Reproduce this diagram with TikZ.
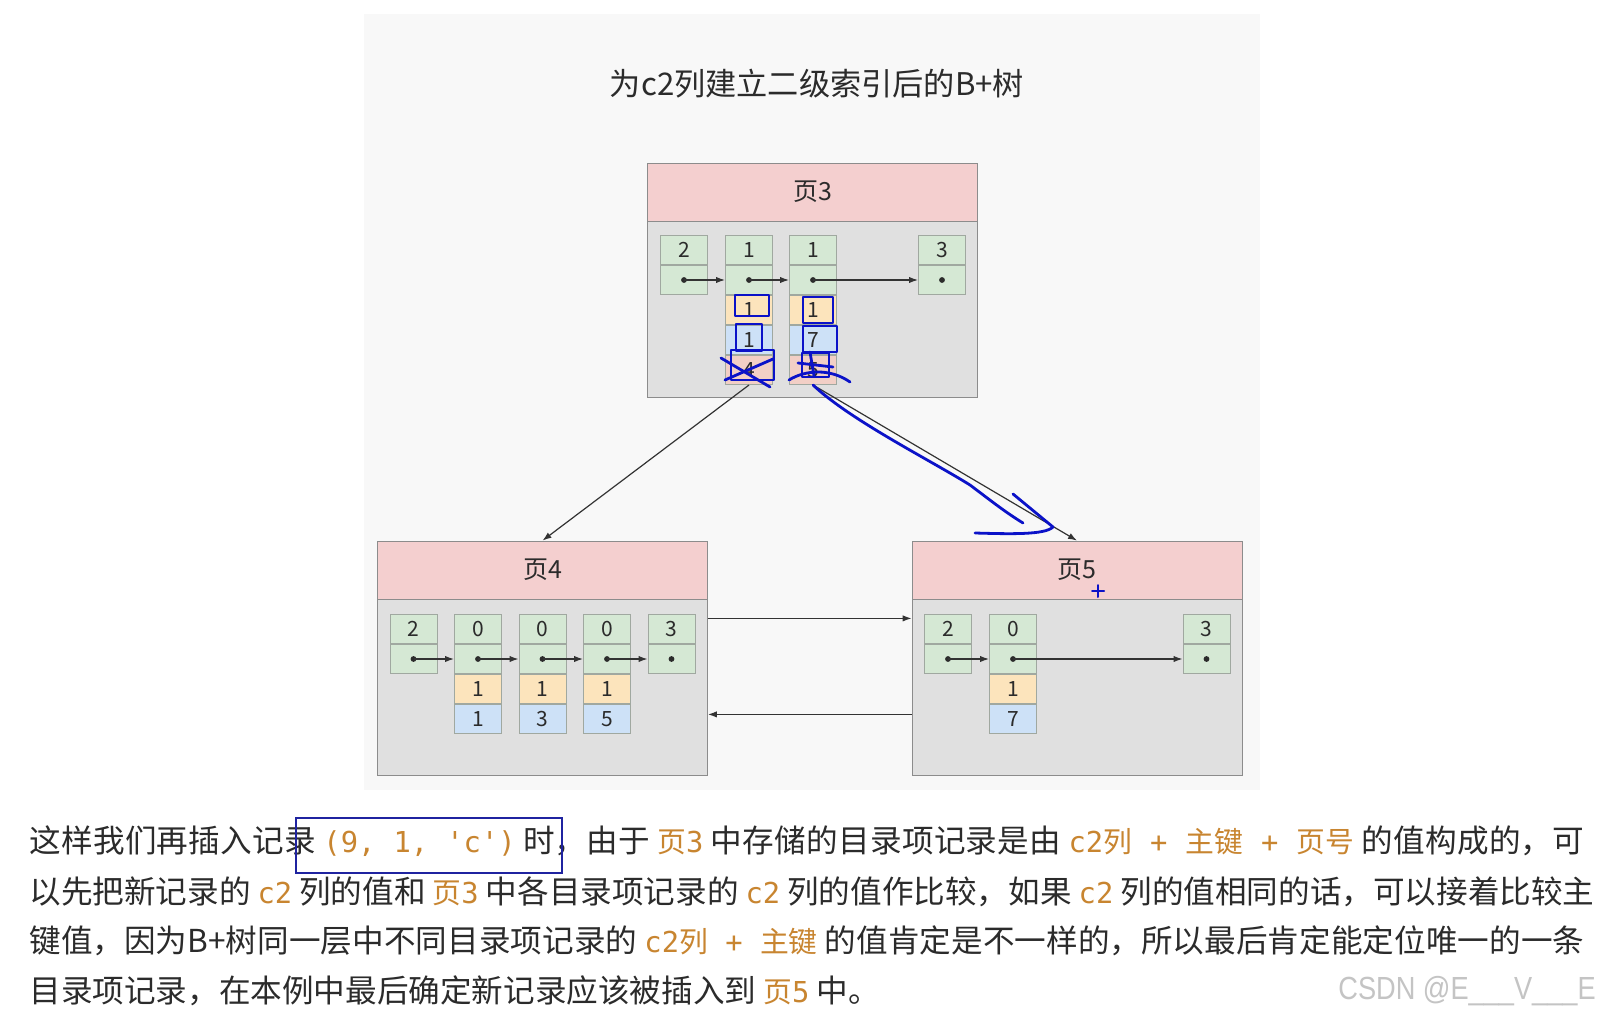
\documentclass[tikz,border=0pt]{standalone}
\usepackage{fontspec}
\setmainfont{Noto Sans CJK SC}
\newfontfamily\codefont{DejaVu Sans Mono}
\newfontfamily\markfont{Liberation Sans}
\usepackage{xcolor}
\usepackage{tikz}
\usetikzlibrary{positioning}
\usetikzlibrary{arrows.meta}

\definecolor{panel}{HTML}{F8F8F8}
\definecolor{headpink}{HTML}{F4CFCF}
\definecolor{bodygray}{HTML}{E0E0E0}
\definecolor{pageline}{HTML}{8C8C8C}
\definecolor{cellline}{HTML}{A0A8A0}
\definecolor{keygreen}{HTML}{D5E8D4}
\definecolor{cellyellow}{HTML}{FCE4BC}
\definecolor{cellblue}{HTML}{CDE1F7}
\definecolor{cellpink}{HTML}{F2CFC6}
\definecolor{ink}{HTML}{2B2B2B}
\definecolor{arrowgray}{HTML}{333333}
\definecolor{codeink}{HTML}{C88530}
\definecolor{penblue}{HTML}{0B12C8}
\definecolor{boxblue}{HTML}{1F23A0}
\definecolor{markgray}{HTML}{C4C4C4}

\XeTeXlinebreaklocale "zh"
\XeTeXlinebreakskip=0pt plus 2pt

\newcommand\zh[1]{{\normalfont #1}}
\newcommand\code[1]{{\color{codeink}\fontsize{14.4}{18}\codefont #1}}

\tikzset{
  head/.style={draw=pageline, fill=headpink, minimum width=165pt, minimum height=29pt, inner sep=0pt, text=ink, font=\fontsize{12.5}{14}\selectfont},
  body/.style={draw=pageline, fill=bodygray, minimum width=165pt, minimum height=88pt, inner sep=0pt},
  cell/.style={draw=cellline, line width=0.5pt, minimum width=23.5pt, minimum height=14.5pt, inner sep=0pt, text=ink, font=\fontsize{10.5}{12}\selectfont},
  key/.style={cell, fill=keygreen},
  yel/.style={cell, fill=cellyellow},
  blu/.style={cell, fill=cellblue},
  pnk/.style={cell, fill=cellpink},
  link/.style={-{Latex[length=4.5pt,width=3.2pt]}, draw=arrowgray, line width=0.6pt},
  pen/.style={draw=penblue, line width=1.4pt, line cap=round, line join=round},
  txt/.style={anchor=west, inner sep=0pt, align=justify, text=ink, font=\fontsize{15.8}{20}\selectfont}
}

\begin{document}
\begin{tikzpicture}[x=0.5pt, y=-0.5pt]
	\fill[white] (0,0) rectangle (1599,1016);
	\useasboundingbox (0,0) rectangle (1599,1016);
	\fill[panel] (364,14) rectangle (1260,790);

	\node[text=ink, font=\fontsize{15.6}{18}\selectfont] (title) at (817,84) {为c2列建立二级索引后的B+树};

	% pages
	\node[head] (p3) at (812.5,192) {页3};
	\node[body, below=0 of p3] (p3b) {};
	\node[head] (p4) at (542.5,570) {页4};
	\node[body, below=0 of p4] (p4b) {};
	\node[head] (p5) at (1077,570) {页5};
	\node[body, below=0 of p5] (p5b) {};

	% records
	\foreach \nm/\v/\x/\y in {p3c0/2/684/250, p3c1/1/749/250, p3c2/1/813/250, p3c3/3/942/250,
	  p4c0/2/413.5/629, p4c1/0/478/629, p4c2/0/542.5/629, p4c3/0/607/629, p4c4/3/671.5/629,
	  p5c0/2/948/629, p5c1/0/1013/629, p5c4/3/1206.5/629}{
		\node[key] (\nm) at (\x,\y) {\v};
		\node[key, below=0 of \nm] (\nm n) {};
		\fill[ink] (\nm n) circle[radius=1.45pt];
	}
	\foreach \nm/\u/\w in {p3c1/1/1, p3c2/1/7, p4c1/1/1, p4c2/1/3, p4c3/1/5, p5c1/1/7}{
		\node[yel, below=0 of \nm n] (\nm y) {\u};
		\node[blu, below=0 of \nm y] (\nm b) {\w};
	}
	\node[pnk, below=0 of p3c1b] (p3c1p) {4};
	\node[pnk, below=0 of p3c2b] (p3c2p) {5};

	\foreach \a/\b in {p3c0/p3c1, p3c1/p3c2, p3c2/p3c3, p4c0/p4c1, p4c1/p4c2, p4c2/p4c3, p4c3/p4c4, p5c0/p5c1, p5c1/p5c4}
		\draw[link] (\a n.center) -- (\b n.west);

	\draw[link] (p3c1p.south) -- (p4.north);
	\draw[link] (p3c2p.south) -- (p5.north);
	\draw[link] ([yshift=-9.5pt]p4b.north east) -- ([yshift=-9.5pt]p5b.north west);
	\draw[link] ([yshift=-57.5pt]p5b.north west) -- ([yshift=-57.5pt]p4b.north east);

	% text
	\node[txt, text width=777.5pt] (line1) at (29,841) {\parfillskip=0pt 这样我们再插入记录 \code{(9, 1, 'c')} 时，由于 \code{\zh{页}3} 中存储的目录项记录是由 \code{c2\zh{列} + \zh{主键} + \zh{页号}} 的值构成的，可\par};
	\node[txt, text width=782.5pt] (line2) at (29,892) {\parfillskip=0pt 以先把新记录的 \code{c2} 列的值和 \code{\zh{页}3} 中各目录项记录的 \code{c2} 列的值作比较，如果 \code{c2} 列的值相同的话，可以接着比较主\par};
	\node[txt, text width=777.5pt] (line3) at (29,941) {\parfillskip=0pt 键值，因为B+树同一层中不同目录项记录的 \code{c2\zh{列} + \zh{主键}} 的值肯定是不一样的，所以最后肯定能定位唯一的一条\par};
	\node[anchor=west, inner sep=0pt, text=ink, font=\fontsize{15.8}{20}\selectfont] (line4) at (29,991) {目录项记录，在本例中最后确定新记录应该被插入到 \code{\zh{页}5} 中。};
	\node[anchor=west, inner sep=0pt, text=markgray, font=\markfont\fontsize{16}{18}\selectfont, xscale=0.85, transform shape] (wm) at (1338,991) {CSDN @E\_\_\_V\_\_\_E};

	% hand marks
	\draw[draw=boxblue, line width=1pt] (296,818) rectangle (562,873);
	\draw[pen] (735,295) rectangle (769,316);
	\draw[pen] (736,324) rectangle (762,351);
	\draw[pen] (731,350) rectangle (774,380);
	\draw[pen] (721,358) -- (770,387);
	\draw[pen] (725,380) -- (773,359);
	\draw[pen] (803,297) rectangle (833,323);
	\draw[pen] (803,326) rectangle (837,352);
	\draw[pen] (802,353) rectangle (829,377);
	\draw[pen] (789,380) .. controls (805,370) and (830,368) .. (850,382);
	\draw[pen] (798,363) -- (833,367);
	\draw[pen] (810,352) -- (814,376);
	\coordinate (hookend) at (1023,523);
	\draw[pen] (p3c2p.south) .. controls (850,420) and (930,460) .. (970,485) .. controls (990,500) and (1005,512) .. (hookend);
	\draw[pen] (1013,494) -- (1053,527) .. controls (1045,535) and (1010,534) .. (975,533);
	\draw[pen, line width=1pt] (1092,591) -- (1104,591) (1098,585) -- (1098,597);
\end{tikzpicture}
\end{document}
